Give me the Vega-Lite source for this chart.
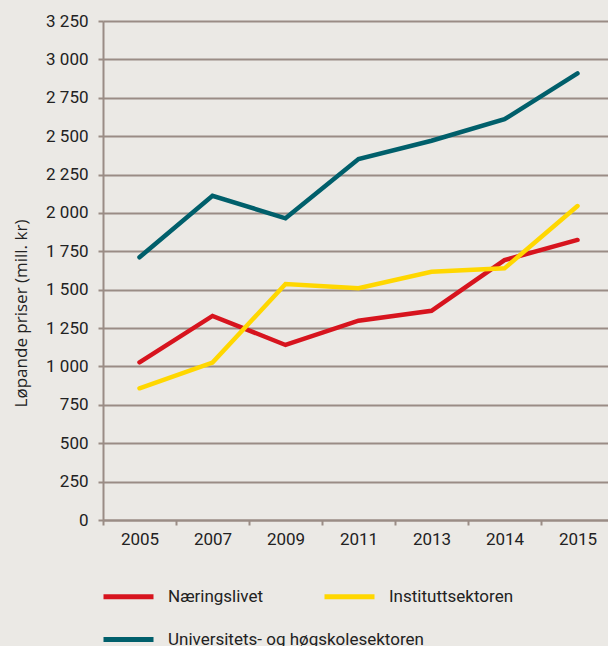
{
  "$schema": "https://vega.github.io/schema/vega-lite/v6.json",
  "autosize": {"type": "none"},
  "padding": {"left": 103, "top": 21, "right": 0, "bottom": 126},
  "width": 511,
  "height": 499,
  "background": "#ebe9e5",
  "config": {
    "view": {"stroke": null},
    "font": "Roboto"
  },
  "data": {
    "values": [
      {"year": "2005", "sector": "Næringslivet", "value": 1027},
      {"year": "2007", "sector": "Næringslivet", "value": 1329},
      {"year": "2009", "sector": "Næringslivet", "value": 1140},
      {"year": "2011", "sector": "Næringslivet", "value": 1298},
      {"year": "2013", "sector": "Næringslivet", "value": 1363},
      {"year": "2014", "sector": "Næringslivet", "value": 1693},
      {"year": "2015", "sector": "Næringslivet", "value": 1824},
      {"year": "2005", "sector": "Instituttsektoren", "value": 858},
      {"year": "2007", "sector": "Instituttsektoren", "value": 1025},
      {"year": "2009", "sector": "Instituttsektoren", "value": 1537},
      {"year": "2011", "sector": "Instituttsektoren", "value": 1509},
      {"year": "2013", "sector": "Instituttsektoren", "value": 1617},
      {"year": "2014", "sector": "Instituttsektoren", "value": 1639},
      {"year": "2015", "sector": "Instituttsektoren", "value": 2045},
      {"year": "2005", "sector": "Universitets- og høgskolesektoren", "value": 1711},
      {"year": "2007", "sector": "Universitets- og høgskolesektoren", "value": 2112},
      {"year": "2009", "sector": "Universitets- og høgskolesektoren", "value": 1965},
      {"year": "2011", "sector": "Universitets- og høgskolesektoren", "value": 2351},
      {"year": "2013", "sector": "Universitets- og høgskolesektoren", "value": 2470},
      {"year": "2014", "sector": "Universitets- og høgskolesektoren", "value": 2610},
      {"year": "2015", "sector": "Universitets- og høgskolesektoren", "value": 2909}
    ]
  },
  "encoding": {
    "x": {
      "field": "year",
      "type": "ordinal",
      "bandPosition": 0.5,
      "scale": {"type": "band", "paddingInner": 0, "paddingOuter": 0},
      "axis": {
        "title": null,
        "labelAngle": 0,
        "tickBand": "extent",
        "domainColor": "#9a8c85",
        "domainWidth": 2,
        "tickColor": "#9a8c85",
        "tickWidth": 2,
        "tickSize": 5,
        "labelFontSize": 17,
        "labelColor": "#222222",
        "labelPadding": 6,
        "grid": false
      }
    },
    "y": {
      "field": "value",
      "type": "quantitative",
      "scale": {"domain": [0, 3250], "nice": false},
      "axis": {
        "title": "Løpande priser (mill. kr)",
        "titleFont": "Open Sans",
        "titleFontSize": 17,
        "titleFontWeight": "normal",
        "titleColor": "#222222",
        "titlePadding": 15,
        "titleY": 292,
        "values": [0, 250, 500, 750, 1000, 1250, 1500, 1750, 2000, 2250, 2500, 2750, 3000, 3250],
        "labelExpr": "replace(format(datum.value, ','), ',', ' ')",
        "labelFontSize": 17,
        "labelColor": "#222222",
        "labelPadding": 10,
        "tickSize": 5,
        "tickColor": "#9a8c85",
        "tickWidth": 2,
        "domainColor": "#9a8c85",
        "domainWidth": 2,
        "grid": true,
        "gridColor": "#9a8c85",
        "gridWidth": 2,
        "gridOpacity": 1
      }
    }
  },
  "layer": [
    {
      "transform": [{"filter": "datum.sector != 'Universitets- og høgskolesektoren'"}],
      "mark": {"type": "line", "strokeWidth": 4.5, "strokeJoin": "miter", "strokeCap": "round"},
      "encoding": {
        "color": {
          "field": "sector",
          "type": "nominal",
          "scale": {
            "domain": ["Næringslivet", "Instituttsektoren"],
            "range": ["#d7141e", "#ffd700"]
          },
          "legend": {
            "title": null,
            "orient": "none",
            "legendX": -2,
            "legendY": 548,
            "direction": "horizontal",
            "columnPadding": 50,
            "symbolType": "stroke",
            "symbolSize": 2500,
            "symbolStrokeWidth": 5,
            "symbolOffset": 0,
            "labelOffset": 12,
            "labelFontSize": 17,
            "labelColor": "#222222",
            "labelLimit": 400
          }
        }
      }
    },
    {
      "transform": [{"filter": "datum.sector == 'Universitets- og høgskolesektoren'"}],
      "mark": {"type": "line", "strokeWidth": 4.5, "strokeJoin": "miter", "strokeCap": "round"},
      "encoding": {
        "color": {
          "field": "sector",
          "type": "nominal",
          "scale": {
            "domain": ["Universitets- og høgskolesektoren"],
            "range": ["#005f6b"]
          },
          "legend": {
            "title": null,
            "orient": "none",
            "legendX": -2,
            "legendY": 591,
            "direction": "horizontal",
            "symbolType": "stroke",
            "symbolSize": 2500,
            "symbolStrokeWidth": 5,
            "symbolOffset": 0,
            "labelOffset": 12,
            "labelFontSize": 17,
            "labelColor": "#222222",
            "labelLimit": 400
          }
        }
      }
    }
  ],
  "resolve": {"scale": {"color": "independent"}, "legend": {"color": "independent"}}
}
